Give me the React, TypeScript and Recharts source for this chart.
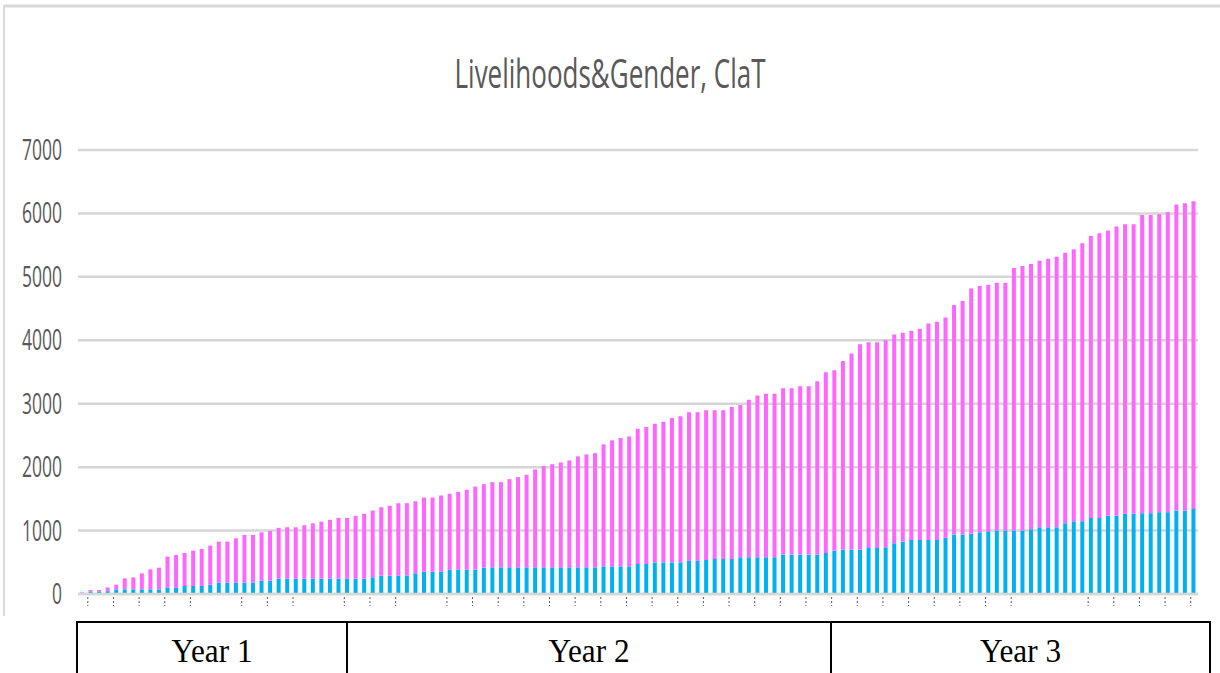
import React from "react";
import { BarChart, Bar, XAxis, YAxis, CartesianGrid } from "recharts";

// cumulative totals per reporting period (blue + magenta stack height)
const totals = [
  25, 63, 63, 104, 147, 247, 262, 325, 389, 415,
  590, 616, 648, 684, 711, 763, 826, 826, 878, 932,
  932, 973, 995, 1043, 1052, 1052, 1084, 1115, 1142, 1169,
  1200, 1200, 1232, 1264, 1316, 1368, 1390, 1431, 1431, 1463,
  1521, 1521, 1553, 1580, 1611, 1643, 1695, 1732, 1763, 1763,
  1811, 1842, 1880, 1964, 2016, 2047, 2074, 2106, 2169, 2201,
  2221, 2359, 2422, 2458, 2485, 2607, 2632, 2686, 2717, 2774,
  2801, 2864, 2864, 2896, 2896, 2896, 2948, 2980, 3064, 3128,
  3159, 3159, 3243, 3243, 3275, 3275, 3354, 3496, 3528, 3675,
  3791, 3938, 3970, 3970, 4002, 4091, 4117, 4149, 4180, 4265,
  4291, 4360, 4555, 4618, 4818, 4855, 4876, 4907, 4907, 5139,
  5171, 5202, 5255, 5286, 5318, 5381, 5434, 5529, 5645, 5687,
  5729, 5792, 5829, 5829, 5976, 5976, 5987, 6019, 6140, 6161,
  6193,
];

// lower (blue) segment
const maleValues = [
  10, 41, 41, 45, 73, 73, 73, 73, 73, 73,
  104, 104, 126, 126, 126, 147, 178, 178, 178, 178,
  178, 210, 210, 242, 242, 242, 242, 242, 242, 242,
  242, 242, 242, 242, 263, 289, 289, 289, 289, 326,
  352, 352, 352, 384, 384, 384, 384, 415, 420, 420,
  420, 420, 420, 420, 420, 420, 420, 420, 420, 420,
  420, 436, 436, 436, 436, 474, 474, 499, 499, 499,
  499, 526, 526, 537, 553, 553, 553, 579, 579, 579,
  579, 579, 621, 621, 621, 621, 621, 648, 684, 700,
  700, 700, 727, 727, 736, 800, 826, 853, 853, 853,
  853, 885, 937, 937, 948, 973, 989, 1000, 1000, 1000,
  1000, 1021, 1052, 1052, 1052, 1115, 1147, 1147, 1200, 1200,
  1237, 1237, 1264, 1264, 1274, 1274, 1290, 1290, 1316, 1316,
  1342,
];

const periods = totals.map((_, i) => String(i + 1));

// periods that carry a tick mark under the axis
const tickPeriods = [
  "2", "5", "8", "11", "14", "20", "23", "26", "32", "35", "38", "44", "47",
  "50", "53", "56", "59", "62", "65", "68", "71", "74", "77", "80", "83", "86",
  "89", "92", "95", "98", "101", "104", "107", "110", "119", "122", "125",
  "128", "131",
];

const yTicks = [0, 1000, 2000, 3000, 4000, 5000, 6000, 7000];

const years = ["Year 1", "Year 2", "Year 3"];

const chartData = periods.map((p, i) => ({
  period: p,
  male: maleValues[i],
  female: totals[i] - maleValues[i],
}));

const YTick = (props: any) => {
  const { y, payload } = props;
  const label = String(payload.value);
  return (
    <text
      x={62}
      y={y}
      dy={10}
      textAnchor="end"
      fontSize={30}
      fontFamily="Open Sans"
      fill="#595959"
      textLength={label.length * 10}
      lengthAdjust="spacingAndGlyphs"
    >
      {label}
    </text>
  );
};

const XTick = (props: any) => {
  const { x, y } = props;
  return (
    <line
      x1={x - 3}
      x2={x - 3}
      y1={y - 5}
      y2={y + 4}
      stroke="#595959"
      strokeWidth={1}
      strokeDasharray="2 2"
    />
  );
};

const yearCells = [
  { x1: 77, x2: 347 },
  { x1: 347, x2: 831 },
  { x1: 831, x2: 1210 },
];

export default function App() {
  return (
    <div style={{ position: "absolute", left: 0, top: 0, width: 1220, height: 673, background: "#fff", overflow: "hidden" }}>
      <div style={{ position: "absolute", left: 0, top: 0 }}>
        <BarChart
          width={1220}
          height={620}
          data={chartData}
          margin={{ top: 150, right: 22, left: 0, bottom: 0 }}
          barCategoryGap={0}
        >
          <CartesianGrid vertical={false} stroke="#d6d6d6" strokeWidth={2.5} />
          <XAxis
            dataKey="period"
            height={26}
            ticks={tickPeriods}
            interval={0}
            tickLine={false}
            tick={<XTick />}
            axisLine={{ stroke: "#d6d6d6", strokeWidth: 2.5 }}
          />
          <YAxis
            width={78}
            domain={[0, 7000]}
            ticks={yTicks}
            axisLine={false}
            tickLine={false}
            tick={<YTick />}
          />
          <Bar dataKey="male" stackId="a" fill="#00b0f0" barSize={4} isAnimationActive={false} />
          <Bar dataKey="female" stackId="a" fill="#ff66ff" barSize={4} isAnimationActive={false} />
        </BarChart>
      </div>
      <svg width={1220} height={673} style={{ position: "absolute", left: 0, top: 0, pointerEvents: "none" }}>
        <line x1={4} x2={1220} y1={6} y2={6} stroke="#d9d9d9" strokeWidth={3} />
        <line x1={4} x2={4} y1={5} y2={616} stroke="#d9d9d9" strokeWidth={2} />
        <text
          x={610}
          y={88}
          textAnchor="middle"
          fontSize={40}
          fontFamily="Open Sans"
          fill="#595959"
          textLength={311}
          lengthAdjust="spacingAndGlyphs"
        >
          Livelihoods&amp;Gender, ClaT
        </text>
        <line x1={76} x2={1211} y1={622} y2={622} stroke="#000" strokeWidth={2} />
        {yearCells.map((c, i) => (
          <g key={years[i]}>
            <line x1={c.x1} x2={c.x1} y1={621} y2={673} stroke="#000" strokeWidth={2} />
            <text
              x={(c.x1 + c.x2) / 2}
              y={662}
              textAnchor="middle"
              fontSize={34}
              fontFamily="Liberation Serif"
              fill="#000"
              textLength={81}
              lengthAdjust="spacingAndGlyphs"
            >
              {years[i]}
            </text>
          </g>
        ))}
        <line x1={1210} x2={1210} y1={621} y2={673} stroke="#000" strokeWidth={2} />
      </svg>
    </div>
  );
}
